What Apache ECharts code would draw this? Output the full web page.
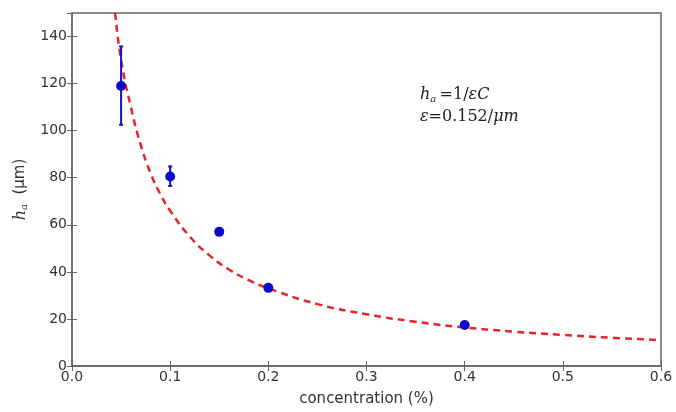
<!DOCTYPE html>
<html>
<head>
<meta charset="utf-8">
<script src="https://cdn.jsdelivr.net/npm/echarts@6/dist/echarts.min.js"></script>
<style>
  html, body { margin: 0; padding: 0; background: #fff; }
  #main { width: 676px; height: 412px; }
</style>
</head>
<body>
<div id="main"></div>
<script>
  // 测量点 (concentration %, h_a μm)
  var conc = [0.05, 0.1, 0.15, 0.2, 0.4];
  var ha = [119, 80.5, 57, 33.2, 17.4];
  var errLow = [102.5, 76.5, null, null, null];
  var errHigh = [135.8, 84.8, null, null, null];

  // 拟合虚线 h_a = 1/(eps*C), 点
  var fitX = [0.044, 0.05, 0.06, 0.07, 0.08, 0.09, 0.1, 0.12, 0.14, 0.16, 0.18, 0.2, 0.25, 0.3, 0.35, 0.4, 0.45, 0.5, 0.55, 0.6];
  var fitY = [150, 130, 110, 94, 82, 73, 66, 55, 47, 41, 36.5, 33, 26.3, 22, 18.8, 16.4, 14.6, 13.2, 12, 11];

  var points = conc.map(function (c, i) { return [c, ha[i]]; });
  var fit = fitX.map(function (c, i) { return [c, fitY[i]]; });
  var bars = [];
  conc.forEach(function (c, i) {
    if (errLow[i] != null) bars.push([c, errLow[i], errHigh[i]]);
  });

  var font = 'DejaVu Sans';
  var lbl = { color: '#333', fontSize: 14, fontFamily: font };
  var lineC = '#666';

  var myChart = echarts.init(document.getElementById('main'));
  myChart.setOption({
    animation: false,
    grid: { left: 72, right: 15, top: 13, bottom: 46, show: true, borderColor: lineC, borderWidth: 1.5 },
    xAxis: [{
      type: 'value', min: 0, max: 0.6, interval: 0.1,
      name: 'concentration (%)', nameLocation: 'middle', nameGap: 26,
      nameTextStyle: { color: '#333', fontSize: 15, fontFamily: font },
      axisLine: { lineStyle: { color: lineC, width: 1.5 } },
      axisTick: { inside: true, length: 5, lineStyle: { color: lineC } },
      splitLine: { show: false },
      axisLabel: Object.assign({ margin: 4, formatter: function (v) { return v.toFixed(1); } }, lbl)
    }, {
      type: 'value', min: 0, max: 0.6, interval: 0.1, position: 'top',
      axisLine: { show: false },
      axisTick: { inside: true, length: 5, lineStyle: { color: lineC } },
      axisLabel: { show: false }, splitLine: { show: false }
    }],
    yAxis: [{
      type: 'value', min: 0, max: 150, interval: 20,
      name: '{i|h}{s|a}  (μm)', nameLocation: 'middle', nameGap: 42, nameRotate: 90,
      nameTextStyle: {
        color: '#333', fontSize: 15, fontFamily: font,
        rich: {
          i: { fontFamily: 'DejaVu Serif', fontStyle: 'italic', fontSize: 16, color: '#333' },
          s: { fontFamily: 'DejaVu Serif', fontStyle: 'italic', fontSize: 10, color: '#333', padding: [8, 0, 0, 0] }
        }
      },
      axisLine: { lineStyle: { color: lineC, width: 1.5 } },
      axisTick: { inside: true, length: 5, lineStyle: { color: lineC } },
      splitLine: { show: false },
      axisLabel: Object.assign({ margin: 5, showMaxLabel: false }, lbl)
    }, {
      type: 'value', min: 0, max: 150, interval: 20, position: 'right',
      axisLine: { show: false },
      axisTick: { inside: true, length: 5, lineStyle: { color: lineC } },
      axisLabel: { show: false }, splitLine: { show: false }
    }],
    graphic: [{
      type: 'text', left: 420, top: 84,
      style: {
        text: '{i|h}{s|a} {n|=1/}{i|εC}\n{i|ε}{n|=0.152/}{i|μm}',
        fill: '#222',
        lineHeight: 22,
        rich: {
          i: { fontFamily: 'DejaVu Serif', fontStyle: 'italic', fontSize: 16, fill: '#222' },
          s: { fontFamily: 'DejaVu Serif', fontStyle: 'italic', fontSize: 10, fill: '#222', padding: [8, 0, 0, 0] },
          n: { fontFamily: 'DejaVu Serif', fontSize: 16, fill: '#222' }
        }
      }
    }],
    series: [{
      type: 'line', data: fit, smooth: true, showSymbol: false, clip: true,
      lineStyle: { color: '#e8242a', width: 2.5, type: [7, 5] }, z: 2
    }, {
      type: 'custom', data: bars, z: 3,
      renderItem: function (params, api) {
        var lo = api.coord([api.value(0), api.value(1)]);
        var hi = api.coord([api.value(0), api.value(2)]);
        var st = { stroke: '#1010cc', lineWidth: 2 };
        return { type: 'group', children: [
          { type: 'line', shape: { x1: lo[0], y1: lo[1], x2: hi[0], y2: hi[1] }, style: st },
          { type: 'line', shape: { x1: lo[0] - 2, y1: lo[1], x2: lo[0] + 2, y2: lo[1] }, style: st },
          { type: 'line', shape: { x1: hi[0] - 2, y1: hi[1], x2: hi[0] + 2, y2: hi[1] }, style: st }
        ] };
      }
    }, {
      type: 'scatter', data: points, symbolSize: 10, z: 4,
      itemStyle: { color: '#0c0cc8', opacity: 1 }
    }]
  });
</script>
</body>
</html>
